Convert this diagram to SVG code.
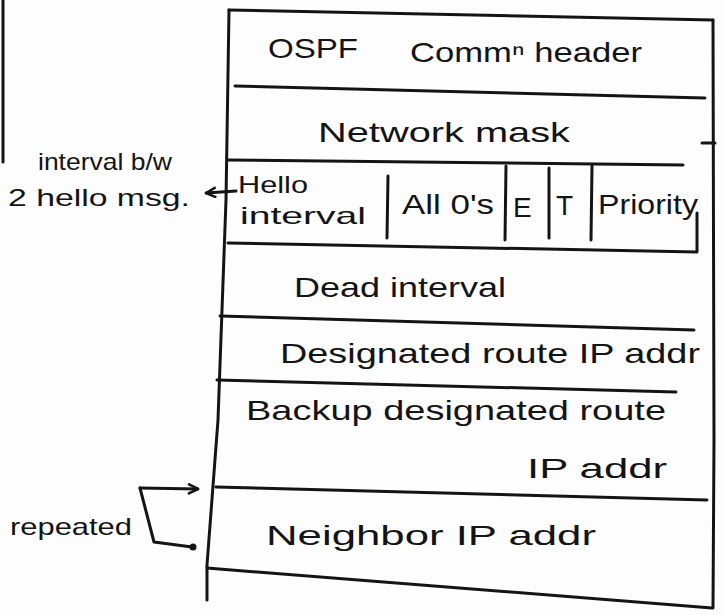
<svg xmlns="http://www.w3.org/2000/svg" width="723" height="615" viewBox="0 0 723 615">
<style>
.ln{stroke:#141414;stroke-width:3;fill:none;stroke-linecap:round;stroke-linejoin:round}
.t{font-family:"Liberation Sans","DejaVu Sans",sans-serif;fill:#141414;font-size:28px}
.s{font-size:24px}
</style>
<defs>
<marker id="ah" viewBox="0 0 12 12" refX="11" refY="6" markerWidth="12" markerHeight="12" markerUnits="userSpaceOnUse" orient="auto">
<path d="M1,1 L11,6 L1,11" fill="none" stroke="#141414" stroke-width="2.5"/>
</marker>
</defs>
<rect width="723" height="615" fill="#fdfdfd"/>
<line class="ln" x1="3" y1="0" x2="3" y2="162"/>

<g id="packet">
<path class="ln" d="M229,10 L226,200 L218,420 L207,565 L207,600"/>
<path class="ln" d="M229,10 L713,20"/>
<path class="ln" d="M713,20 L714,440 L713,608"/>
<path class="ln" d="M207,568 L712,608"/>
</g>

<g id="row-header">
<path class="ln" d="M235,86 L705,98"/>
<text class="t" x="268" y="58" font-size="30" textLength="90" lengthAdjust="spacingAndGlyphs">OSPF</text>
<text class="t" x="410" y="62" textLength="232" lengthAdjust="spacingAndGlyphs">Commⁿ header</text>
</g>

<g id="row-mask">
<path class="ln" d="M228,160 L683,165"/>
<path class="ln" d="M702,143 L715,143"/>
<text class="t" x="318" y="142" textLength="252" lengthAdjust="spacingAndGlyphs">Network mask</text>
</g>

<g id="row-hello">
<path class="ln" d="M228,243 L697,252 L697,213"/>
<path class="ln" d="M388,176 L387,238"/>
<path class="ln" d="M506,166 L505,240"/>
<path class="ln" d="M549,168 L549,238"/>
<path class="ln" d="M592,166 L591,240"/>
<text class="t s" x="238" y="193" textLength="70" lengthAdjust="spacingAndGlyphs">Hello</text>
<text class="t s" x="240" y="224" textLength="126" lengthAdjust="spacingAndGlyphs">interval</text>
<text class="t" x="402" y="214" font-size="25" textLength="92" lengthAdjust="spacingAndGlyphs">All 0's</text>
<text class="t" x="513" y="217" font-size="26">E</text>
<text class="t" x="556" y="215" font-size="26">T</text>
<text class="t" x="598" y="214" font-size="26" textLength="100" lengthAdjust="spacingAndGlyphs">Priority</text>
</g>

<g id="row-dead">
<path class="ln" d="M220,316 L694,330"/>
<text class="t" x="294" y="297" textLength="212" lengthAdjust="spacingAndGlyphs">Dead interval</text>
</g>

<g id="row-dr">
<path class="ln" d="M217,380 L676,392"/>
<text class="t" x="280" y="363" textLength="420" lengthAdjust="spacingAndGlyphs">Designated route IP addr</text>
</g>

<g id="row-bdr">
<path class="ln" d="M216,487 L707,500"/>
<text class="t" x="246" y="420" textLength="420" lengthAdjust="spacingAndGlyphs">Backup designated route</text>
<text class="t" x="527" y="478" textLength="140" lengthAdjust="spacingAndGlyphs">IP addr</text>
</g>

<g id="row-neighbor">
<text class="t" x="266" y="545" textLength="330" lengthAdjust="spacingAndGlyphs">Neighbor IP addr</text>
</g>

<g id="note-hello">
<text class="t s" x="38" y="170" textLength="134" lengthAdjust="spacingAndGlyphs">interval b/w</text>
<text class="t s" x="8" y="206" textLength="182" lengthAdjust="spacingAndGlyphs">2 hello msg.</text>
</g>

<g id="note-repeated">
<text class="t s" x="10" y="535" textLength="122" lengthAdjust="spacingAndGlyphs">repeated</text>
</g>

<g id="connectors">
<path class="ln" d="M236,191 L206,193" marker-end="url(#ah)"/>
<path class="ln" d="M140,488 L198,489" marker-end="url(#ah)"/>
<path class="ln" d="M140,488 L154,542 L192,547"/>
<circle cx="193" cy="547" r="3.5" fill="#141414"/>
</g>
</svg>
